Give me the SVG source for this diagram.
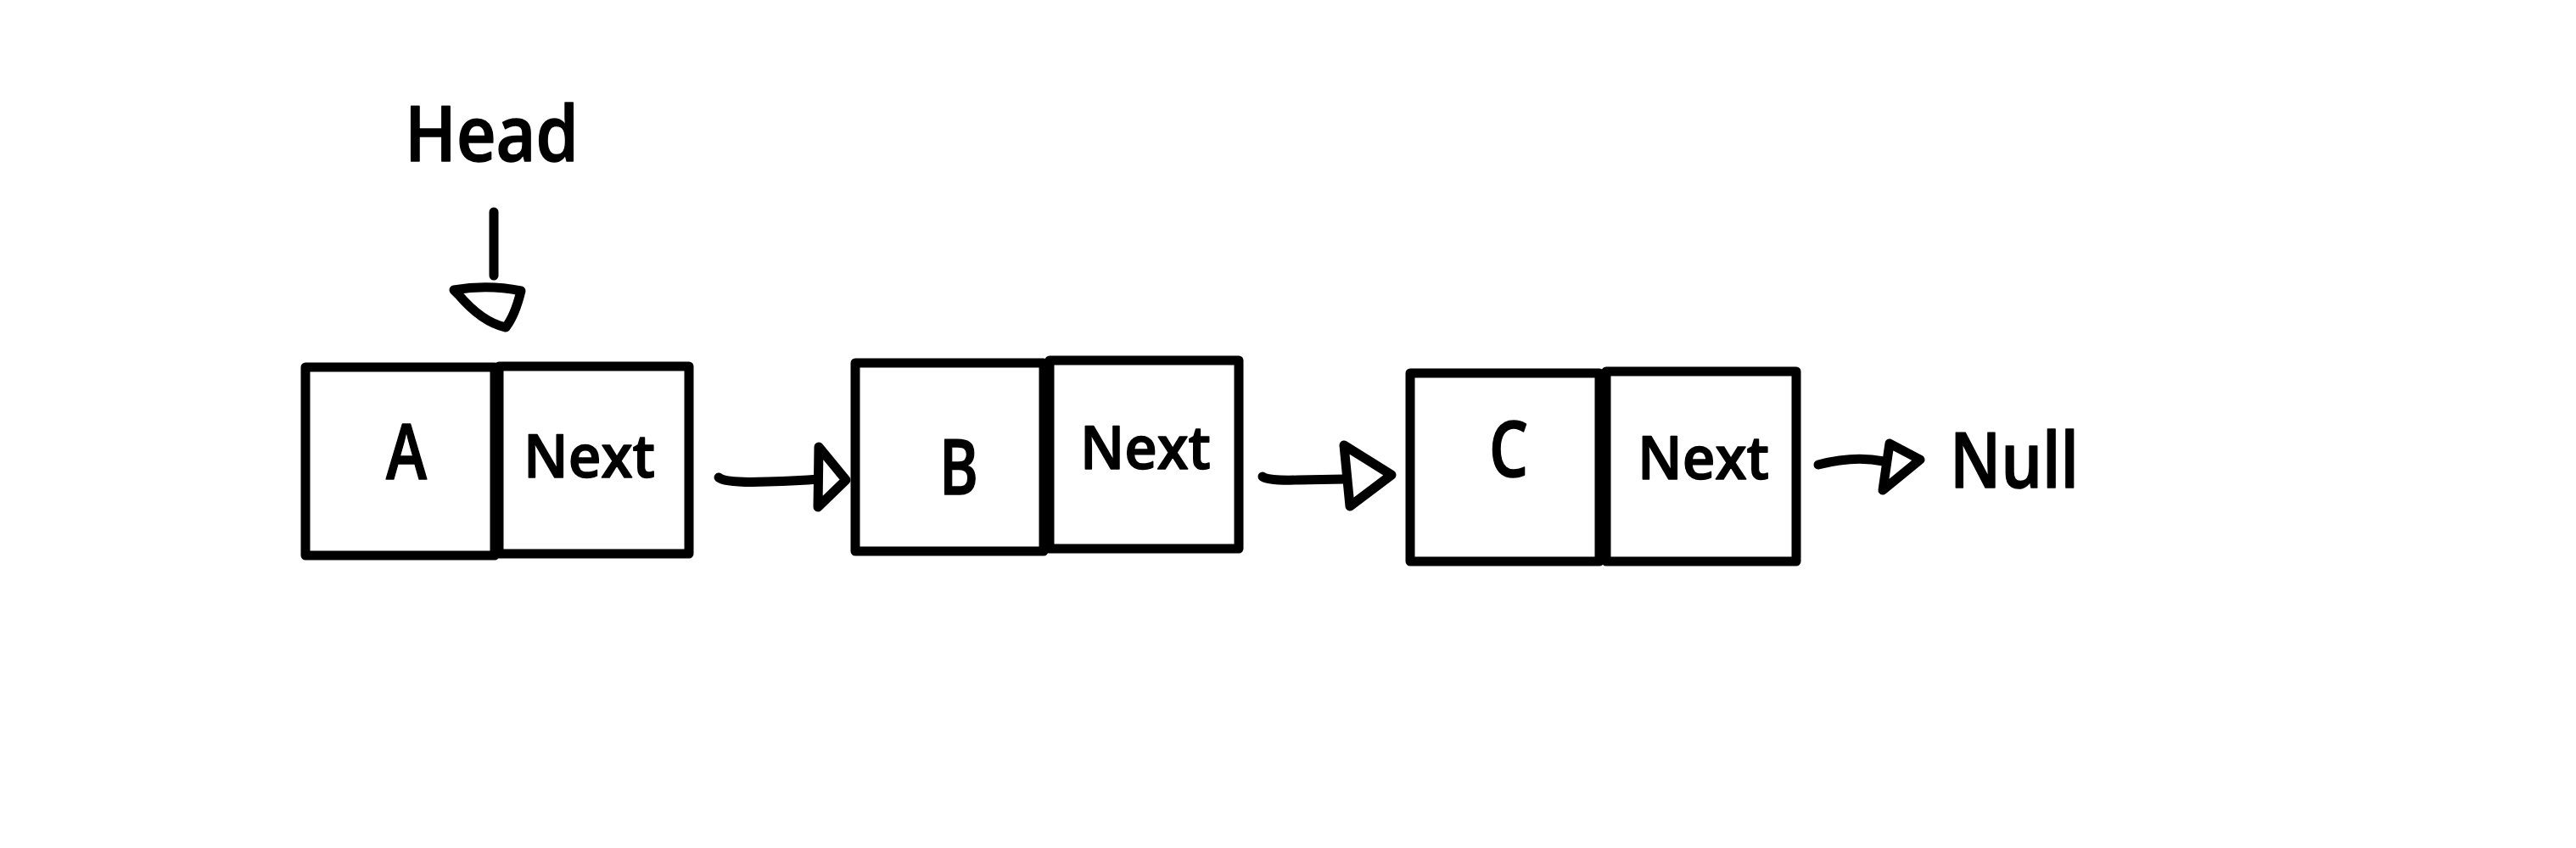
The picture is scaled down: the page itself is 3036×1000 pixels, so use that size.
<svg xmlns="http://www.w3.org/2000/svg" width="3036" height="1000" viewBox="0 0 3036 1000">
<style>
.box{fill:#fff;stroke:#000;stroke-width:11;stroke-linejoin:round}
.ln{fill:none;stroke:#000;stroke-width:11;stroke-linecap:round;stroke-linejoin:round}
.hd{fill:#fff;stroke:#000;stroke-width:11;stroke-linecap:round;stroke-linejoin:round}
.t{font-family:"Open Sans","Liberation Sans",sans-serif;font-weight:600;fill:#000;stroke:#000;stroke-width:1.5;stroke-linejoin:round;font-size:91px}
.n{font-size:71px}
</style>
<rect width="3036" height="1000" fill="#fff"/>
<g id="head-label">
<text class="t" x="477" y="190" textLength="205" lengthAdjust="spacingAndGlyphs">Head</text>
</g>
<g id="nodeA">
<rect class="box" x="360" y="433" width="223" height="222"/>
<text class="t" x="455" y="565" textLength="48" lengthAdjust="spacingAndGlyphs">A</text>
</g>
<g id="nodeA-next">
<rect class="box" x="588" y="432" width="224" height="221"/>
<text class="t n" x="617" y="563" textLength="155" lengthAdjust="spacingAndGlyphs">Next</text>
</g>
<g id="nodeB">
<rect class="box" x="1008" y="428" width="222" height="222"/>
<text class="t" x="1107" y="583" textLength="46" lengthAdjust="spacingAndGlyphs">B</text>
</g>
<g id="nodeB-next">
<rect class="box" x="1237" y="425" width="223" height="222"/>
<text class="t n" x="1273" y="553" textLength="154" lengthAdjust="spacingAndGlyphs">Next</text>
</g>
<g id="nodeC">
<rect class="box" x="1662" y="440" width="223" height="222"/>
<text class="t" x="1755" y="562" textLength="46" lengthAdjust="spacingAndGlyphs">C</text>
</g>
<g id="nodeC-next">
<rect class="box" x="1893" y="438" width="224" height="224"/>
<text class="t n" x="1930" y="565" textLength="155" lengthAdjust="spacingAndGlyphs">Next</text>
</g>
<g id="null-label">
<text class="t" x="2298" y="575" textLength="152" lengthAdjust="spacingAndGlyphs">Null</text>
</g>
<g id="connectors">
<path class="ln" d="M582,250 L582,325"/>
<path class="hd" d="M535,342 Q575,335 614,343 Q607,372 596,386 Q568,380 540,347 Z"/>
<path class="ln" d="M847,563 Q855,570 905,568 Q940,567 965,565"/>
<path class="hd" d="M965,527 L997,566 L964,598 Z"/>
<path class="ln" d="M1488,562 Q1493,567 1530,566 L1585,565"/>
<path class="hd" d="M1584,525 L1640,560 L1591,597 Z"/>
<path class="ln" d="M2143,548 Q2185,537 2220,544"/>
<path class="hd" d="M2227,523 L2263,542 L2219,578 Z"/>
</g>
</svg>
